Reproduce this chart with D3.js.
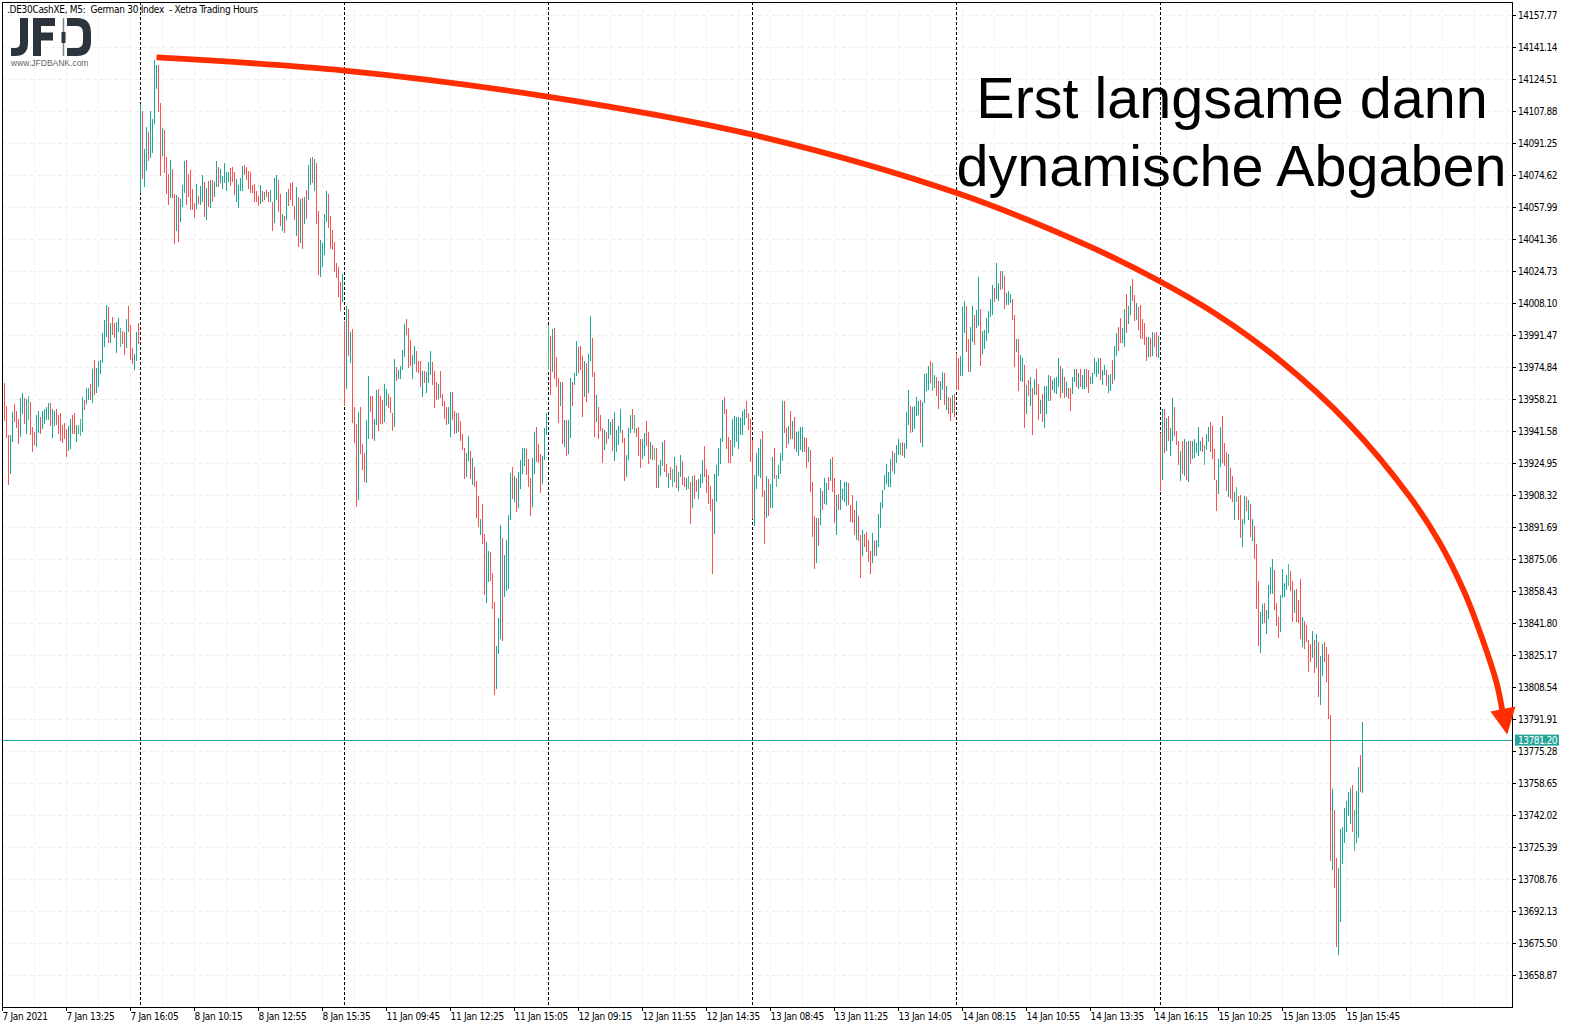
<!DOCTYPE html>
<html><head><meta charset="utf-8"><title>DE30 M5</title>
<script src="https://cdn.jsdelivr.net/npm/d3@7"></script>
<style>
html,body{margin:0;padding:0;background:#fff}
svg{display:block}
text{font-family:"DejaVu Sans Condensed","DejaVu Sans",sans-serif}
text.big{font-family:"Liberation Sans",Arial,sans-serif}
text.url{font-family:"Liberation Sans",Arial,sans-serif}
</style></head><body><div id="c"></div>
<script>
const highs=[
13966.7,13954.7,13939.7,13939.7,13951.6,13955.8,13952.1,13948.0,13958.9,13961.5,
13958.9,13958.4,13959.9,13956.8,13943.8,13941.2,13950.1,13952.1,13949.0,13952.1,
13953.2,13954.2,13956.3,13956.3,13953.2,13952.1,13953.2,13950.1,13951.1,13944.9,
13945.9,13942.8,13944.3,13948.0,13950.1,13951.1,13944.9,13944.9,13948.0,13959.4,
13957.8,13964.1,13964.1,13966.2,13974.0,13978.6,13974.5,13978.1,13978.6,13992.7,
13999.4,14007.2,14006.2,13997.9,14001.0,13997.9,13998.4,14000.5,13995.3,13993.7,
13993.2,13999.9,14006.7,13996.8,13984.9,13981.7,13993.2,13997.9,14111.6,14108.0,
14088.3,14099.7,14097.1,14108.0,14103.8,14134.5,14131.9,14131.9,14112.2,14099.2,
14098.1,14084.1,14075.3,14082.5,14077.9,14064.9,14064.4,14063.3,14062.3,14069.6,
14082.0,14082.5,14075.3,14077.3,14067.5,14060.2,14070.1,14063.8,14069.0,14074.7,
14071.1,14068.0,14071.6,14072.2,14072.2,14071.1,14082.0,14078.9,14077.9,14074.2,
14081.0,14076.3,14076.3,14078.4,14078.9,14076.3,14072.7,14069.6,14073.2,14079.4,
14079.9,14079.0,14076.9,14076.4,14069.6,14070.1,14066.5,14063.9,14069.6,14066.5,
14066.0,14067.0,14066.0,14067.0,14060.8,14073.3,14074.8,14072.2,14064.9,14054.5,
14053.5,14066.0,14067.5,14070.7,14071.2,14058.7,14068.6,14063.4,14062.3,14062.9,
14063.4,14067.0,14080.0,14083.6,14084.2,14083.1,14081.0,14056.1,14041.0,14039.5,
14054.5,14066.5,14064.9,14053.5,14046.2,14040.0,14029.1,14027.0,14019.2,14023.4,
13998.9,14006.7,14005.1,13993.2,13994.7,13954.2,13945.4,13951.6,13954.2,13935.0,
13930.3,13947.4,13970.3,13959.9,13959.9,13948.0,13963.0,13963.6,13959.9,13957.8,
13966.2,13963.6,13961.0,13959.4,13951.1,13979.1,13975.0,13973.4,13975.5,13983.8,
13997.3,13999.9,13995.3,13989.0,13981.2,13985.9,13983.3,13978.1,13978.1,13972.9,
13972.9,13972.4,13977.6,13983.3,13977.6,13972.9,13967.2,13966.2,13972.9,13961.0,
13957.3,13954.2,13954.2,13962.0,13962.0,13952.1,13951.1,13951.1,13946.9,13940.2,
13932.9,13930.3,13939.1,13931.3,13927.7,13923.0,13915.8,13908.0,13896.0,13903.8,
13888.2,13884.1,13879.4,13878.9,13867.9,13852.9,13830.0,13844.6,13892.9,13886.1,
13877.3,13885.1,13898.1,13919.9,13923.0,13918.4,13917.3,13920.4,13926.7,13932.9,
13932.9,13932.4,13927.2,13917.3,13927.7,13941.2,13943.8,13935.0,13929.8,13928.7,
13943.3,13951.1,13996.8,13991.1,13994.7,13995.3,13980.2,13969.3,13967.2,13967.2,
13947.4,13947.4,13947.4,13969.3,13967.2,13971.9,13988.5,13985.4,13985.9,13980.7,
13978.1,13977.1,13981.7,14001.5,13990.1,13972.4,13960.4,13954.2,13950.0,13943.3,
13942.3,13941.2,13948.0,13946.4,13948.0,13951.6,13942.3,13944.3,13953.2,13942.3,
13938.1,13929.3,13943.3,13950.0,13953.2,13950.0,13943.3,13943.8,13937.6,13937.6,
13940.7,13946.9,13941.2,13936.0,13934.5,13932.9,13932.9,13924.1,13926.7,13936.0,
13937.1,13924.6,13919.9,13923.0,13922.0,13928.2,13924.1,13920.4,13929.3,13926.1,
13917.8,13917.3,13918.4,13915.2,13918.4,13918.9,13916.3,13916.8,13919.4,13926.7,
13933.9,13922.0,13918.9,13913.2,13906.4,13919.4,13924.1,13932.9,13938.1,13957.8,
13959.4,13953.2,13938.6,13937.1,13948.0,13949.5,13949.0,13949.0,13948.5,13952.1,
13953.2,13957.3,13951.1,13948.0,13937.1,13918.9,13930.3,13932.9,13937.6,13941.7,
13911.1,13918.4,13916.8,13914.2,13928.2,13932.9,13918.9,13924.1,13930.3,13957.3,
13957.3,13943.3,13944.3,13952.1,13946.9,13949.0,13941.2,13941.7,13943.8,13943.8,
13938.6,13938.1,13933.4,13931.9,13915.2,13897.6,13896.5,13896.5,13912.1,13910.6,
13917.3,13914.7,13917.8,13927.2,13928.2,13917.3,13908.5,13909.0,13916.3,13911.6,
13915.2,13915.2,13914.7,13903.3,13908.5,13900.7,13905.4,13897.6,13887.7,13890.3,
13888.2,13889.3,13885.1,13879.4,13888.7,13884.6,13885.1,13898.6,13904.8,13911.1,
13918.9,13924.6,13920.4,13927.2,13931.3,13930.3,13934.5,13937.6,13935.5,13936.0,
13935.5,13951.6,13963.0,13954.7,13954.2,13954.7,13959.4,13957.3,13957.8,13956.8,
13971.3,13971.9,13975.5,13978.1,13977.1,13970.8,13969.8,13967.7,13967.7,13972.4,
13971.9,13965.1,13959.4,13958.9,13960.4,13961.0,13982.3,13979.7,13980.7,14006.2,
14009.3,14006.7,13989.6,13995.8,14006.7,14002.0,14004.6,14021.8,14005.1,13993.7,
13994.2,14000.5,14004.1,14010.3,14017.6,14016.1,14029.0,14018.7,14024.9,14024.9,
14022.3,14013.5,14014.5,14012.9,14010.3,14002.0,13989.6,13989.6,13981.2,13979.7,
13976.0,13965.7,13968.3,13969.8,13964.1,13968.8,13974.0,13966.2,13957.9,13961.0,
13965.1,13965.1,13970.8,13970.3,13968.3,13969.3,13969.8,13979.7,13975.5,13974.0,
13969.8,13967.2,13964.1,13964.1,13969.8,13974.0,13974.0,13971.9,13974.0,13970.8,
13974.0,13974.0,13973.4,13969.8,13971.9,13979.7,13977.6,13979.7,13979.7,13973.4,
13976.0,13973.4,13970.8,13971.4,13978.6,13985.9,13992.7,13995.8,14000.5,13995.3,
14005.1,14012.9,14006.7,14017.1,14020.7,14012.4,14008.3,14006.2,14007.2,13999.9,
13997.9,13990.6,13990.6,13990.1,13993.2,13992.7,13993.2,13991.1,13940.7,13953.2,
13953.2,13948.5,13949.5,13943.3,13958.9,13954.2,13941.8,13936.6,13931.4,13936.6,
13937.6,13936.0,13936.6,13936.6,13936.6,13937.6,13935.5,13943.8,13936.6,13938.6,
13934.5,13940.2,13943.8,13946.4,13944.4,13932.4,13916.3,13927.2,13943.8,13949.5,
13935.5,13930.8,13929.8,13922.5,13918.4,13910.1,13912.7,13908.0,13908.5,13896.0,
13908.0,13907.5,13905.9,13903.8,13896.0,13892.4,13883.0,13863.8,13847.7,13851.8,
13852.4,13848.7,13861.7,13871.1,13875.2,13869.5,13852.4,13845.1,13856.5,13870.0,
13862.8,13866.9,13872.6,13869.0,13863.8,13859.1,13859.6,13853.9,13864.8,13845.1,
13843.0,13840.9,13833.1,13831.1,13837.8,13833.1,13836.3,13832.1,13824.8,13831.1,
13832.1,13829.5,13825.9,13794.1,13755.7,13744.7,13719.8,13714.6,13734.9,13735.9,
13745.8,13749.4,13754.1,13756.2,13757.7,13744.7,13754.6,13767.1,13773.3,13790.5];
const lows=[
13946.9,13938.1,13913.7,13919.4,13936.0,13946.4,13943.3,13935.0,13938.6,13950.6,
13945.4,13940.2,13947.5,13939.7,13930.8,13934.5,13933.4,13940.7,13940.2,13942.8,
13945.4,13947.5,13947.5,13944.3,13938.1,13944.3,13944.9,13940.2,13936.5,13935.5,
13937.6,13928.2,13931.3,13932.4,13940.2,13940.2,13936.0,13940.2,13939.1,13941.2,
13952.7,13955.8,13957.8,13957.8,13956.3,13960.4,13961.5,13964.6,13971.4,13977.1,
13985.4,13990.6,13987.5,13987.5,13991.6,13990.1,13982.3,13993.2,13985.4,13986.9,
13981.2,13984.9,13993.2,13978.6,13976.6,13973.4,13978.1,13986.9,14065.4,14072.7,
14068.5,14076.8,14082.0,14083.6,14086.2,14101.2,14119.4,14107.5,14074.2,14084.6,
14075.8,14064.9,14059.2,14062.8,14062.8,14038.9,14045.7,14039.9,14050.3,14058.1,
14065.4,14059.2,14063.3,14056.6,14056.6,14052.4,14057.1,14059.7,14059.2,14060.7,
14052.9,14051.4,14058.1,14057.6,14060.7,14063.3,14068.5,14068.5,14070.6,14067.5,
14070.6,14066.4,14071.1,14069.0,14071.1,14064.4,14060.7,14057.6,14066.4,14066.4,
14074.7,14072.2,14067.5,14065.5,14065.5,14060.8,14060.8,14058.7,14059.7,14060.8,
14061.8,14063.4,14060.8,14060.8,14045.7,14049.9,14061.8,14055.6,14048.3,14045.7,
14044.7,14051.4,14058.7,14061.8,14058.7,14051.4,14043.1,14037.4,14039.5,14036.4,
14049.4,14052.0,14061.8,14069.6,14070.7,14066.5,14049.4,14022.9,14021.8,14027.0,
14033.2,14050.4,14047.3,14036.4,14035.8,14024.4,14021.3,14011.4,14004.1,14008.8,
13954.7,13963.6,13980.7,13977.1,13945.9,13935.5,13902.2,13905.9,13929.8,13921.5,
13915.2,13914.7,13937.6,13951.6,13937.6,13936.5,13944.8,13941.7,13945.4,13945.4,
13946.4,13954.7,13953.7,13951.1,13941.7,13943.8,13967.7,13968.8,13968.8,13973.4,
13980.2,13991.6,13974.5,13975.5,13968.8,13976.5,13972.4,13971.9,13964.6,13959.4,
13966.7,13961.5,13966.7,13970.8,13965.6,13953.7,13957.8,13958.4,13958.9,13954.7,
13948.0,13944.8,13945.4,13938.6,13947.4,13940.2,13940.7,13941.2,13936.5,13931.9,
13916.8,13917.8,13926.1,13916.8,13913.7,13912.6,13896.5,13891.8,13887.7,13883.0,
13856.5,13852.4,13863.3,13863.8,13849.2,13804.6,13807.7,13825.9,13833.7,13832.6,
13855.5,13858.6,13859.6,13895.5,13906.4,13904.8,13899.6,13901.7,13911.6,13919.4,
13923.5,13918.9,13912.6,13897.6,13902.2,13919.4,13925.6,13925.1,13909.5,13914.2,
13926.7,13939.7,13973.4,13960.4,13972.4,13968.8,13964.6,13945.9,13954.7,13935.0,
13933.4,13928.7,13929.8,13938.1,13954.7,13965.6,13970.3,13971.9,13973.4,13949.0,
13959.4,13956.8,13961.5,13978.1,13969.8,13938.6,13946.4,13937.6,13941.7,13925.1,
13931.9,13935.0,13937.6,13939.7,13931.3,13926.1,13930.8,13934.5,13940.7,13935.5,
13915.8,13917.8,13926.7,13940.7,13942.8,13940.7,13938.6,13928.7,13922.5,13927.2,
13928.7,13933.9,13924.6,13927.2,13926.7,13926.7,13912.1,13912.1,13918.4,13923.5,
13920.4,13917.8,13912.1,13916.3,13912.6,13915.2,13912.1,13910.6,13917.8,13913.7,
13912.6,13911.1,13911.6,13893.4,13901.7,13906.4,13910.0,13906.4,13912.1,13914.7,
13917.8,13909.5,13903.8,13900.2,13867.4,13888.2,13904.8,13918.4,13924.6,13936.0,
13950.6,13932.4,13925.1,13925.1,13928.7,13933.4,13936.0,13932.4,13939.7,13939.7,
13944.8,13948.5,13942.3,13925.6,13896.0,13892.4,13911.6,13918.4,13917.3,13907.4,
13883.0,13896.5,13897.6,13901.7,13901.7,13916.8,13912.6,13916.8,13919.4,13926.1,
13940.7,13932.9,13935.0,13937.6,13937.6,13932.4,13930.8,13928.7,13931.9,13930.8,
13930.8,13922.5,13925.6,13910.0,13886.7,13870.0,13873.1,13882.0,13892.9,13900.7,
13903.8,13903.3,13911.1,13915.8,13910.0,13893.9,13887.7,13900.7,13900.7,13905.9,
13904.8,13902.8,13903.3,13894.4,13893.9,13887.7,13885.1,13884.6,13865.3,13876.8,
13881.5,13878.9,13873.7,13867.4,13873.1,13876.8,13876.8,13881.5,13891.3,13901.7,
13911.1,13914.2,13912.6,13912.6,13920.9,13919.4,13925.1,13929.3,13929.3,13928.7,
13927.7,13932.4,13944.8,13940.7,13941.2,13942.8,13949.5,13950.0,13935.5,13933.4,
13956.3,13962.5,13963.0,13966.7,13962.5,13964.1,13959.9,13953.2,13957.8,13963.0,
13955.2,13952.6,13950.6,13946.9,13951.1,13949.0,13963.1,13963.1,13970.3,13970.3,
13992.7,13982.8,13972.4,13972.4,13988.0,13986.4,13995.3,13996.3,13975.5,13981.8,
13984.4,13988.5,13992.7,14001.0,14002.0,14008.8,14010.3,14009.3,14015.0,14015.5,
14005.1,14007.2,14007.2,14008.3,13999.4,13975.0,13982.8,13962.5,13967.7,13967.2,
13943.3,13950.6,13959.9,13954.7,13939.7,13960.5,13960.5,13947.5,13950.6,13946.4,
13943.3,13950.6,13957.3,13957.3,13963.1,13961.5,13961.0,13964.6,13958.9,13961.5,
13958.9,13959.4,13958.4,13952.1,13961.0,13967.2,13964.6,13963.6,13964.6,13963.6,
13963.6,13964.6,13961.5,13966.2,13966.2,13971.4,13969.8,13971.4,13968.3,13965.7,
13970.8,13965.1,13961.5,13962.5,13966.2,13968.3,13980.7,13983.3,13987.5,13987.5,
13985.4,13992.7,13997.3,14002.0,14009.3,13998.9,13999.4,13994.2,13989.6,13989.6,
13986.4,13978.1,13980.2,13980.2,13980.7,13985.4,13980.2,13979.7,13910.6,13916.3,
13930.3,13931.4,13936.6,13928.8,13936.6,13939.2,13934.5,13924.1,13915.8,13919.4,
13918.4,13916.3,13915.3,13924.6,13927.2,13927.7,13930.3,13928.8,13931.4,13930.8,
13924.1,13931.9,13936.0,13930.8,13927.2,13916.3,13900.2,13909.0,13923.0,13925.1,
13923.6,13910.6,13907.5,13906.4,13904.9,13895.5,13904.9,13895.5,13886.2,13881.5,
13893.4,13900.2,13895.5,13886.7,13884.6,13875.2,13849.2,13830.0,13826.4,13841.5,
13842.0,13836.3,13844.1,13857.0,13857.0,13848.7,13840.4,13834.2,13837.3,13855.0,
13855.5,13859.1,13861.2,13858.6,13842.5,13847.2,13842.5,13842.0,13833.7,13829.5,
13828.5,13832.1,13816.5,13821.7,13823.8,13816.0,13818.6,13803.5,13799.4,13814.4,
13821.7,13811.3,13792.1,13718.2,13713.6,13704.2,13673.6,13669.4,13686.6,13716.7,
13727.6,13733.3,13741.6,13737.5,13733.3,13723.4,13727.6,13730.2,13754.1,13753.6];
const sides=("rrrggrrrgg rglrrrggrg gggrggrrrr rrggrrgllg rggrgrgggg ggrgrrgglr rgrrrggrgr ggrggggrrg rrrgrrgrgg grrrrrgrgg "+
"rgrgrggrgg gggrrrgggg rrrrrrrrgr grrgrggrrg rgrrrrgrgr grggrgrrgg ggrrrrrrrg rgrgrrrgrr rggrrggrrr ggrrrgrggg "+
"grrrggrrrg rgggrrrgrr rrggrrgrrr rggrgrrrgr rggrrrgggr ggggrgrggg grrrggrrrg gglrgrrrgr grggrggrrr grggrrgrrr "+
"grggrggggr rgggrlrrrg grrgrlrggg rrgrlgrggr rglrgrrggg rrrrrggggg rrrrgggggg grrrrggggr rgrggrlggg rrgrgrgggg "+
"rrgrrrgrgr ggrgrrgrgg ggrrrrgrrg rrrrgrgggg ggggrggglr gggrggggrg gggrlgrrgg rgrrgrrrgg grrggrggrg gggggrggrg "+
"rgggrrgrgg rgrgrgrrgr gggrggggrg rgrrggrgrg grrgggggrg grggrggrrg grggrrgrrr rrgrgrrgrg rgrggrrrgr grgrgggggr "+
"lggrrrrggr rrgrrglrrg grgrgrrrgg rggggrrrgg gglrrgrrrg rrrrgrgrgg rrrrgrrggg ggggrlggrg").replace(/ /g,"").split("");

const priceTicks=[14157.77,14141.14,14124.51,14107.88,14091.25,14074.62,14057.99,14041.36,14024.73,14008.10,
13991.47,13974.84,13958.21,13941.58,13924.95,13908.32,13891.69,13875.06,13858.43,13841.80,
13825.17,13808.54,13791.91,13775.28,13758.65,13742.02,13725.39,13708.76,13692.13,13675.50,13658.87];
const timeLabels=["7 Jan 2021","7 Jan 13:25","7 Jan 16:05","8 Jan 10:15","8 Jan 12:55","8 Jan 15:35","11 Jan 09:45","11 Jan 12:25",
"11 Jan 15:05","12 Jan 09:15","12 Jan 11:55","12 Jan 14:35","13 Jan 08:45","13 Jan 11:25","13 Jan 14:05","14 Jan 08:15",
"14 Jan 10:55","14 Jan 13:35","14 Jan 16:15","15 Jan 10:25","15 Jan 13:05","15 Jan 15:45"];
const timeTickBars=timeLabels.map((_,k)=>32*k-1);
const sessionBars=[68,170,272,374,476,578];
const gridBars=d3.range(15,752,16);
const lastPrice=13781.20;
const trendBars=[76.25,170.25,271.75,373.75,475.75,542.75,578.1,606.25,639.25,672.75,702.75,717.75,730.25,739.25,746.25,749.25];
const trendPrices=[14135.7,14128.9,14115.4,14095.7,14065.5,14037.5,14019.3,14002.2,13977.2,13945.0,13907.6,13883.7,13857.7,13833.3,13810.9,13795.8];
const headBars=[751.6,743.25,755.75];
const headPrices=[13783.9,13795.8,13798.4];

const colors={g:"#1aa999",r:"#fb5050",l:"#4ebc83"};
const W=1570,H=1028,L=2,T=2,R=1512,B=1007;
const x=d3.scaleLinear().domain([0,679]).range([4,1362]);
const y=d3.scaleLinear().domain([13658.87,14157.77]).range([975,15]);
const svg=d3.select("#c").append("svg").attr("width",W).attr("height",H).attr("viewBox",`0 0 ${W} ${H}`);
svg.append("rect").attr("width",W).attr("height",H).attr("fill","#fff");

const grid=svg.append("g").attr("stroke","#efefef").attr("stroke-dasharray","4,3").attr("shape-rendering","crispEdges");
grid.selectAll(".h").data(priceTicks).join("line").attr("x1",L).attr("x2",R).attr("y1",d=>y(d)+.5).attr("y2",d=>y(d)+.5);
grid.selectAll(".v").data(gridBars).join("line").attr("y1",T).attr("y2",B).attr("x1",d=>x(d)+.5).attr("x2",d=>x(d)+.5);

svg.append("g").attr("stroke","#000").attr("stroke-dasharray","3,2").attr("shape-rendering","crispEdges")
 .selectAll("line").data(sessionBars).join("line").attr("y1",T).attr("y2",B).attr("x1",d=>x(d)+.5).attr("x2",d=>x(d)+.5);

svg.append("line").attr("x1",L).attr("x2",R).attr("y1",y(lastPrice)+.5).attr("y2",y(lastPrice)+.5).attr("stroke","#26a69a").attr("shape-rendering","crispEdges");

svg.append("g").attr("shape-rendering","crispEdges").selectAll("line").data(highs).join("line")
 .attr("x1",(d,i)=>x(i)+.5).attr("x2",(d,i)=>x(i)+.5)
 .attr("y1",d=>y(d)).attr("y2",(d,i)=>y(lows[i]))
 .attr("stroke",(d,i)=>colors[sides[i]]);

svg.append("rect").attr("x",L+.5).attr("y",T+.5).attr("width",R-L).attr("height",B-T).attr("fill","none").attr("stroke","#000").attr("shape-rendering","crispEdges");

const axR=svg.append("g").attr("transform",`translate(${R},0)`).call(d3.axisRight(y).tickValues(priceTicks).tickFormat(d=>d.toFixed(2)).tickSize(4).tickPadding(2));
axR.select(".domain").remove();
axR.selectAll("text").attr("font-size",10).attr("fill","#000").attr("letter-spacing","-0.5px").attr("font-family",'"DejaVu Sans Condensed","DejaVu Sans",sans-serif');
axR.selectAll("line").attr("stroke","#000");

const axB=svg.append("g").attr("transform",`translate(0,${B})`).call(d3.axisBottom(x).tickValues(timeTickBars).tickFormat((d,i)=>timeLabels[i]).tickSize(4).tickPadding(2));
axB.select(".domain").remove();
axB.selectAll("text").attr("text-anchor","start").attr("x",0).attr("font-size",10).attr("fill","#000").attr("letter-spacing","-0.3px").attr("font-family",'"DejaVu Sans Condensed","DejaVu Sans",sans-serif');
axB.selectAll("line").attr("stroke","#000");

svg.append("rect").attr("x",1515).attr("y",y(lastPrice)-5).attr("width",44).attr("height",11).attr("fill","#26a69a");
svg.append("text").attr("x",1518).attr("y",y(lastPrice)+4).attr("font-size",10).attr("letter-spacing","-0.5px").attr("fill","#fff").text(lastPrice.toFixed(2));

svg.append("text").attr("x",7).attr("y",13).attr("font-size",10).attr("fill","#000").attr("letter-spacing","-0.3px").style("white-space","pre").text(".DE30CashXE, M5:  German 30 Index  - Xetra Trading Hours");

// logo
const logo=svg.append("g");
const dark="#2b343c";
logo.append("path").attr("d","M24,18V43Q24,52 15,52H11").attr("fill","none").attr("stroke",dark).attr("stroke-width",8);
logo.append("path").attr("d","M37,56V22H55M37,36.5H53").attr("fill","none").attr("stroke",dark).attr("stroke-width",8);
logo.append("line").attr("x1",63.5).attr("x2",63.5).attr("y1",18).attr("y2",56).attr("stroke","#7d858c").attr("stroke-width",1.5);
logo.append("rect").attr("x",61.5).attr("y",32).attr("width",4).attr("height",11).attr("fill",dark);
logo.append("path").attr("d","M67,22H77Q87,22 87,33V41Q87,52 77,52H67").attr("fill","none").attr("stroke",dark).attr("stroke-width",8);
logo.append("text").attr("class","url").attr("x",11).attr("y",66).attr("font-size",8.5).attr("fill","#666").text("www.JFDBANK.com");

// annotation text
const note=svg.append("g").attr("text-anchor","middle").attr("fill","#000").attr("font-size",57.5);
note.append("text").attr("class","big").attr("x",1232).attr("y",118).text("Erst langsame dann");
note.append("text").attr("class","big").attr("x",1231.5).attr("y",186).text("dynamische Abgaben");

// arrow
const trend=d3.line().x(d=>x(d[0])).y(d=>y(d[1])).curve(d3.curveCatmullRom.alpha(.5));
svg.append("path").attr("d",trend(d3.zip(trendBars,trendPrices))).attr("fill","none").attr("stroke","#ff2d00").attr("stroke-width",5.8);
svg.append("path").attr("d",d3.line().x(d=>x(d[0])).y(d=>y(d[1]))(d3.zip(headBars,headPrices))+"Z").attr("fill","#ff2d00");

document.title=`bars ${highs.length}/${lows.length}/${sides.length}`;
if(highs.length!==680||lows.length!==680||sides.length!==680)console.error(document.title);
</script></body></html>
